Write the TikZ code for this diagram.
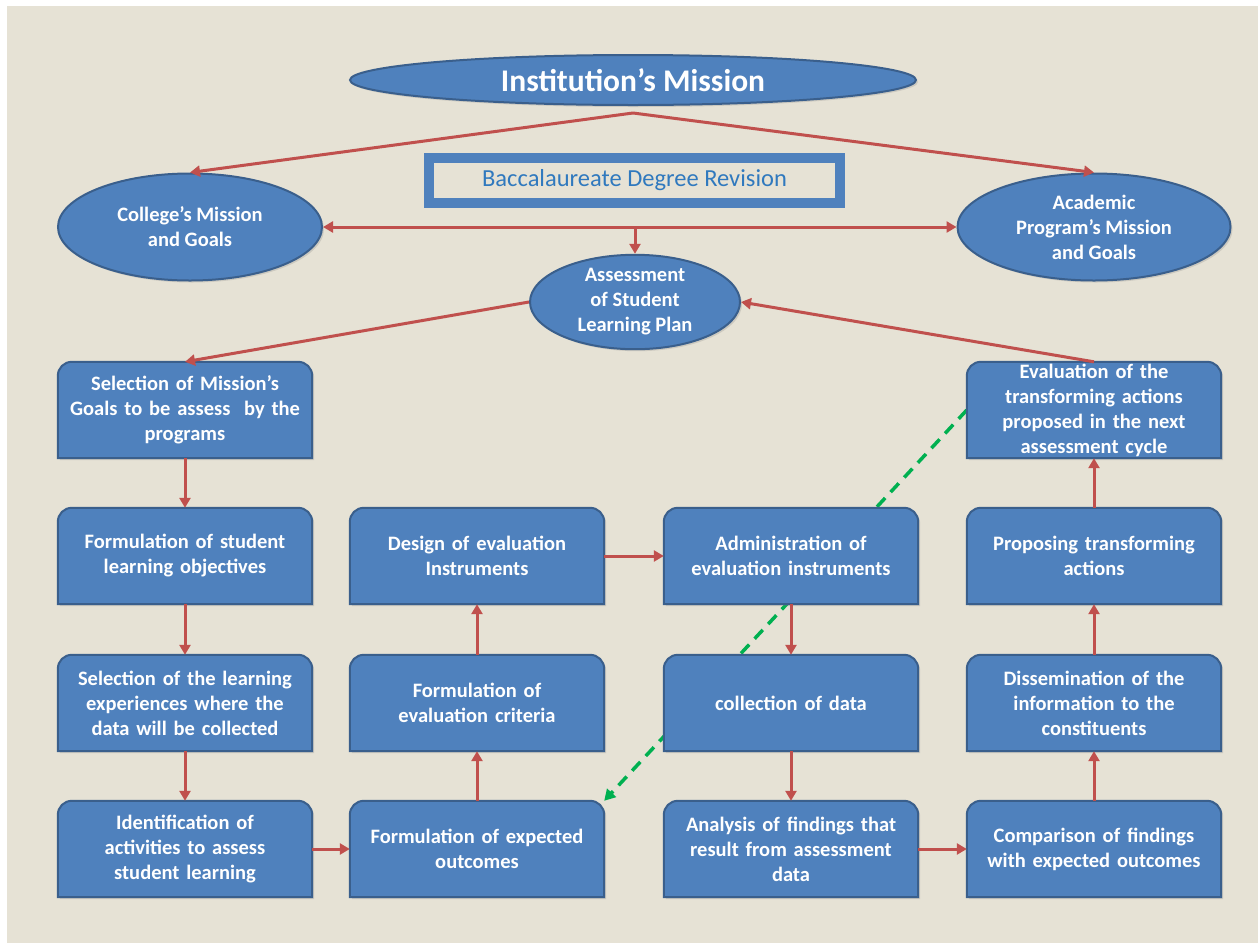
\documentclass[tikz,border=0pt]{standalone}
\usepackage{fontspec}
\setmainfont{Carlito}
\usetikzlibrary{shapes.geometric,arrows.meta,shadows}
\pgfdeclarelayer{back}
\pgfdeclarelayer{shapes}
\pgfsetlayers{back,shapes,main}
\definecolor{paper}{HTML}{E6E2D5}
\definecolor{boxfill}{HTML}{4F81BD}
\definecolor{boxline}{HTML}{3A5F8C}
\definecolor{arrowred}{HTML}{C0504D}
\definecolor{dashgreen}{HTML}{00B050}
\definecolor{titleblue}{HTML}{3079BE}
\begin{document}
\begin{tikzpicture}
[
	x=1pt,y=1pt,
	oval/.style={ellipse,draw=boxline,line width=2pt,fill=boxfill,inner sep=0pt,text=white,align=center,font=\bfseries\fontsize{20.5}{25}\selectfont,drop shadow={opacity=0.25,shadow xshift=2pt,shadow yshift=-2pt}},
	stepbox/.style={rectangle,minimum width=254,minimum height=96,inner sep=0pt,text width=250,align=center,text=white,font=\bfseries\fontsize{20.5}{25}\selectfont},
	boxshape/.style={draw=boxline,line width=2pt,fill=boxfill,drop shadow={opacity=0.25,shadow xshift=2pt,shadow yshift=-2pt}},
	flow/.style={draw=arrowred,line width=3pt,-{Triangle[length=10pt,width=11pt]}},
	feedback/.style={draw=dashgreen,line width=3.5pt,dash pattern=on 12pt off 8pt,-{Triangle[length=11pt,width=12pt]}}
]

	\useasboundingbox (0,0) rectangle (1258,-943);
	\begin{pgfonlayer}{back}
		\fill[white] (0,0) rectangle (1258,-943);
		\fill[paper] (7,-6) rectangle (1258,-943);
	\end{pgfonlayer}

	\node[oval,minimum width=566,minimum height=50,font=\bfseries\fontsize{31.5}{34}\selectfont] at (633,-80) (mission) {Institution’s Mission};
	\node[draw=boxfill,line width=10pt,minimum width=411,minimum height=45,inner sep=0pt,text=titleblue,font=\fontsize{24.5}{28}\selectfont] at (634.5,-180.5) (bacc) {Baccalaureate Degree Revision};
	\node[oval,minimum width=264,minimum height=107] at (190,-227) (college) {College’s Mission\\and Goals};
	\node[oval,minimum width=273,minimum height=107] at (1094,-227) (academic) {Academic\\Program’s Mission\\and Goals};
	\node[oval,minimum width=210,minimum height=80] at (635,-302) (plan) {Assessment\\of Student\\Learning Plan};
	\coordinate (split) at (633,-113);

	\node[stepbox] at (185,-410) (sel) {Selection of Mission’s\\Goals to be assess~ by the\\programs};
	\node[stepbox] at (185,-556) (obj) {Formulation of student\\learning objectives};
	\node[stepbox] at (185,-703) (exper) {Selection of the learning\\experiences where the\\data will be collected};
	\node[stepbox] at (185,-849) (ident) {Identification of\\activities to assess\\student learning};

	\node[stepbox] at (477,-556) (design) {Design of evaluation\\Instruments};
	\node[stepbox] at (477,-703) (crit) {Formulation of\\evaluation criteria};
	\node[stepbox] at (477,-849) (expect) {Formulation of expected\\outcomes};

	\node[stepbox] at (791,-556) (admin) {Administration of\\evaluation instruments};
	\node[stepbox] at (791,-703) (collect) {collection of data};
	\node[stepbox] at (791,-849) (analysis) {Analysis of findings that\\result from assessment\\data};

	\node[stepbox] at (1094,-410) (eval) {Evaluation of the\\transforming actions\\proposed in the next\\assessment cycle};
	\node[stepbox] at (1094,-556) (propose) {Proposing transforming\\actions};
	\node[stepbox] at (1094,-703) (dissem) {Dissemination of the\\information to the\\constituents};
	\node[stepbox] at (1094,-849) (compare) {Comparison of findings\\with expected outcomes};

	\begin{pgfonlayer}{shapes}
		\foreach \b in {sel,obj,exper,ident,design,crit,expect,admin,collect,analysis,eval,propose,dissem,compare}
			\draw[boxshape] (\b.south west) -- ([yshift=-14]\b.north west) arc[start angle=180,end angle=90,radius=14pt] -- ([xshift=-14]\b.north east) arc[start angle=90,end angle=0,radius=14pt] -- (\b.south east) -- cycle;
	\end{pgfonlayer}
	\begin{pgfonlayer}{back}
		\draw[feedback] (eval.west) -- (expect.north east);
	\end{pgfonlayer}

	\draw[flow] (split) -- (college.north);
	\draw[flow] (split) -- (academic.north);
	\draw[flow,{Triangle[length=10pt,width=11pt]}-{Triangle[length=10pt,width=11pt]}] (college.east) -- (academic.west);
	\draw[flow] (college.east -| plan.north) -- (plan.north);
	\draw[flow] (plan.west) -- (sel.north);
	\draw[flow] (eval.north) -- (plan.east);

	\draw[flow] (sel) -- (obj);
	\draw[flow] (obj) -- (exper);
	\draw[flow] (exper) -- (ident);
	\draw[flow] (ident) -- (expect);
	\draw[flow] (expect) -- (crit);
	\draw[flow] (crit) -- (design);
	\draw[flow] (design) -- (admin);
	\draw[flow] (admin) -- (collect);
	\draw[flow] (collect) -- (analysis);
	\draw[flow] (analysis) -- (compare);
	\draw[flow] (compare) -- (dissem);
	\draw[flow] (dissem) -- (propose);
	\draw[flow] (propose) -- (eval);

\end{tikzpicture}
\end{document}
